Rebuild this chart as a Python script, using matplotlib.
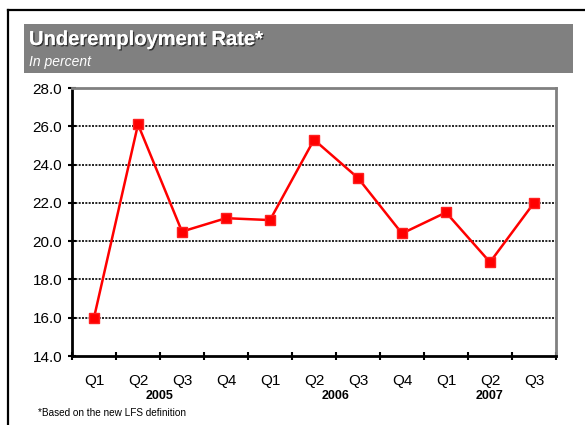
import matplotlib
matplotlib.use("Agg")
import matplotlib.pyplot as plt
import matplotlib.patheffects as pe
from matplotlib.patches import Rectangle
from matplotlib.lines import Line2D

plt.rcParams['font.family'] = ['Liberation Sans', 'DejaVu Sans']

# Quarterly underemployment rate, in percent
quarters = ["Q1", "Q2", "Q3", "Q4", "Q1", "Q2", "Q3", "Q4", "Q1", "Q2", "Q3"]
rates = [16.0, 26.1, 20.5, 21.2, 21.1, 25.3, 23.3, 20.4, 21.5, 18.9, 22.0]
years = ["2005", "2006", "2007"]
year_spans = [(0, 3), (4, 7), (8, 10)]
y_ticks = [14.0, 16.0, 18.0, 20.0, 22.0, 24.0, 26.0, 28.0]

W, H = 585, 425
fig = plt.figure(figsize=(W / 100, H / 100), dpi=100)


def fx(px):
    return px / W


def fy(py):
    return 1 - py / H


# outer frame: top and left rules
fig.add_artist(Line2D([fx(8), fx(585)], [fy(10), fy(10)], color="black", lw=1.6))
fig.add_artist(Line2D([fx(8), fx(8)], [fy(10), fy(425)], color="black", lw=1.6))

# grey title band
fig.add_artist(Rectangle((fx(24), fy(73)), fx(573) - fx(24), fy(24) - fy(73),
                         facecolor="#808080", edgecolor="none"))
fig.text(fx(29), fy(45), "Underemployment Rate*", color="white",
         fontsize=14.5, fontweight="bold", va="baseline", ha="left",
         path_effects=[pe.withSimplePatchShadow(offset=(1, -1), shadow_rgbFace="#202020", alpha=0.8),
                       pe.Normal()])
fig.text(fx(29), fy(66), "In percent", color="white",
         fontsize=10, fontstyle="italic", va="baseline", ha="left")

# plot area
left, right, top, bottom = 72, 556, 88, 356
ax = fig.add_axes([fx(left), fy(bottom), fx(right) - fx(left), fy(top) - fy(bottom)])

x = list(range(len(rates)))
ax.plot(x, rates, color="#ff0000", lw=1.8, marker="s", markersize=6.5,
        markerfacecolor="#ff0000", markeredgecolor="#ff2020", zorder=3)

ax.set_xlim(-0.5, len(rates) - 0.5)
ax.set_ylim(y_ticks[0], y_ticks[-1])
ax.set_yticks(y_ticks)
ax.set_yticklabels([f"{v:.1f}" for v in y_ticks], fontsize=11)
ax.set_xticks([i - 0.5 for i in range(len(rates) + 1)])
ax.set_xticklabels([])
ax.set_xticks(x, minor=True)
ax.set_xticklabels(quarters, minor=True, fontsize=11)
ax.tick_params(axis="x", which="minor", length=0, pad=13)
ax.tick_params(axis="x", which="major", direction="inout", length=6, width=1.5)
ax.tick_params(axis="y", direction="inout", length=6, width=1.5, pad=4)

for v in y_ticks[1:-1]:
    ax.axhline(v, color="black", lw=1.2, linestyle=(0, (1.2, 0.8)), zorder=1)

for side in ("left", "bottom"):
    ax.spines[side].set_color("black")
    ax.spines[side].set_linewidth(2)
for side in ("top", "right"):
    ax.spines[side].set_color("#808080")
    ax.spines[side].set_linewidth(2)

# year labels under the quarters
for label, (a, b) in zip(years, year_spans):
    ax.text((a + b) / 2, -0.148, label, transform=ax.get_xaxis_transform(),
            ha="center", va="center", fontsize=9, fontweight="bold")

fig.text(fx(38), fy(413), "*Based on the new LFS definition", fontsize=7.2,
         ha="left", va="center")

fig.savefig("out.png", dpi=100)
